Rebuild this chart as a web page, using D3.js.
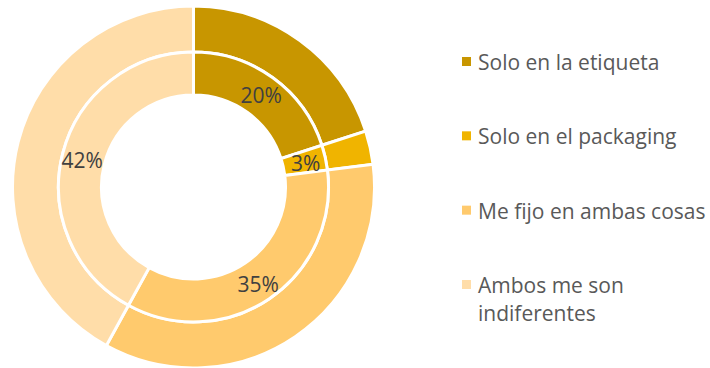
<!DOCTYPE html>
<html>
<head>
<meta charset="utf-8">
<script src="https://cdn.jsdelivr.net/npm/d3@7"></script>
<style>
  html, body { margin: 0; padding: 0; background: #fff; }
  svg { display: block; }
</style>
</head>
<body>
<svg id="chart" width="710" height="368"></svg>
<script>
// Categories and share of answers (%), drawn on both rings
const categories = ["Solo en la etiqueta", "Solo en el packaging", "Me fijo en ambas cosas", "Ambos me son indiferentes"];
const values = [20, 3, 35, 42];
const colors = ["#C89600", "#F0B400", "#FFCA6D", "#FFDDA9"];
const legendLines = [["Solo en la etiqueta"], ["Solo en el packaging"], ["Me fijo en ambas cosas"], ["Ambos me son", "indiferentes"]];

const svg = d3.select("#chart");
const cx = 193.5, cy = 187;
const fontFamily = "'Open Sans', Lato, sans-serif";

const pie = d3.pie().sort(null).value(d => d);
const arcs = pie(values);

const rings = [
  { inner: 135, outer: 181 },
  { inner: 92, outer: 135 }
];

const g = svg.append("g").attr("transform", `translate(${cx},${cy})`);

rings.forEach(r => {
  const arc = d3.arc().innerRadius(r.inner).outerRadius(r.outer);
  g.append("g").selectAll("path")
    .data(arcs)
    .join("path")
    .attr("d", arc)
    .attr("fill", (d, i) => colors[i])
    .attr("stroke", "#fff")
    .attr("stroke-width", 3)
    .attr("stroke-linejoin", "miter");
});

// Percentage labels on the inner ring
const labelArc = d3.arc().innerRadius(115).outerRadius(115);
g.append("g").selectAll("text")
  .data(arcs)
  .join("text")
  .attr("transform", d => {
    const [x, y] = labelArc.centroid(d);
    return `translate(${x},${y + 1.5})`;
  })
  .attr("text-anchor", "middle")
  .attr("dominant-baseline", "central")
  .attr("font-family", fontFamily)
  .attr("font-size", 21)
  .attr("fill", "#404040")
  .text(d => d.data + "%");

// Legend
const legendY = d3.scalePoint().domain(d3.range(categories.length)).range([62, 285]);
const legend = svg.append("g").selectAll("g")
  .data(categories)
  .join("g")
  .attr("transform", (d, i) => `translate(0,${legendY(i)})`);

legend.append("rect")
  .attr("x", 462)
  .attr("y", -5)
  .attr("width", 9)
  .attr("height", 9)
  .attr("fill", (d, i) => colors[i]);

legend.append("text")
  .attr("x", 478)
  .attr("y", 0)
  .attr("dominant-baseline", "central")
  .attr("font-family", fontFamily)
  .attr("font-size", 21)
  .attr("fill", "#595959")
  .each(function(d, i) {
    const t = d3.select(this);
    legendLines[i].forEach((line, j) => {
      t.append("tspan").attr("x", 478).attr("dy", j === 0 ? 0 : 28).text(line);
    });
  });
</script>
</body>
</html>
